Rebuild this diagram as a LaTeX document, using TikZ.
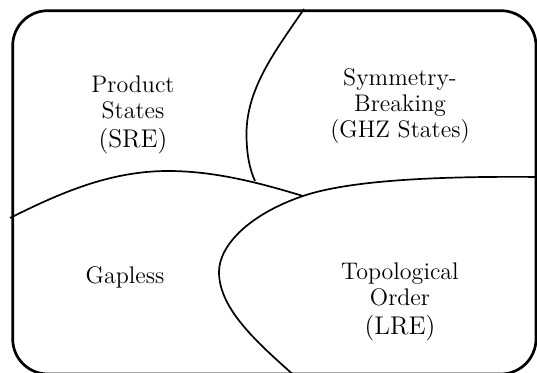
\documentclass[tikz,border=0pt]{standalone}
\usetikzlibrary{calc}

\tikzset{
  regiontext/.style={align=center, font=\fontsize{12}{13}\selectfont},
  boundary/.style={line width=0.85pt, color=black},
  outerframe/.style={line width=1.35pt, rounded corners=17.5pt},
}
\newcommand{\tagline}[1]{{\fontsize{12.8}{14}\selectfont #1}}

\begin{document}
\begin{tikzpicture}[x=0.5pt, y=-0.5pt]
          \clip (0,0) rectangle (537,373);

          % region boundaries
          \draw[boundary] (304,9) .. controls (276,50) and (246.5,88) .. (246.5,134)
                          .. controls (246.5,155) and (250,170) .. (255,181);
          \draw[boundary] (10,218) .. controls (60,193) and (110,171) .. (168,171)
                          .. controls (215,171) and (260,183) .. (303,196);
          \draw[boundary] (540,177) .. controls (440,176) and (350,180) .. (303,196)
                          .. controls (250,214) and (219,245) .. (219,272)
                          .. controls (219,310) and (260,345) .. (297,378);

          \draw[outerframe] (12.7,10.7) rectangle (536,374);

          \node[regiontext] (prod) at (133,115) {Product\\States\\[1.5pt]\tagline{(SRE)}};
          \node[regiontext] (symm) at (400,106) {Symmetry-\\Breaking\\(GHZ States)};
          \node[regiontext, anchor=base] (gapl) at (125,283.5) {Gapless};
          \node[regiontext] (topo) at (400,302) {Topological\\Order\\[1.5pt]\tagline{(LRE)}};
\end{tikzpicture}
\end{document}
